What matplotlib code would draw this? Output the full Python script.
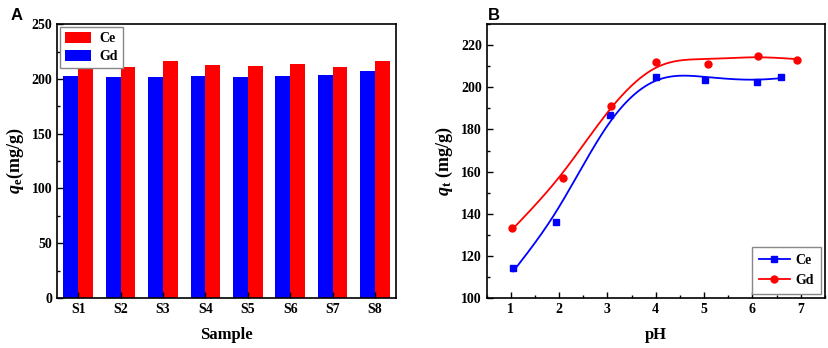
import numpy as np
import matplotlib
matplotlib.use('Agg')
import matplotlib.pyplot as plt
from matplotlib.ticker import MultipleLocator

# panel A data
samples = ['S1', 'S2', 'S3', 'S4', 'S5', 'S6', 'S7', 'S8']
gd_qe = [202.4, 201.5, 201.5, 202.3, 202.0, 202.2, 204.0, 207.0]
ce_qe = [213.4, 211.0, 215.9, 212.8, 211.9, 214.0, 210.7, 215.9]

# panel B data
ce_ph = [1.05, 1.93, 3.06, 4.0, 5.01, 6.10, 6.59]
ce_qt = [114.1, 136.3, 186.8, 204.8, 203.5, 202.5, 205.1]
gd_ph = [1.03, 2.08, 3.07, 4.01, 5.08, 6.12, 6.92]
gd_qt = [133.3, 157.0, 191.0, 212.1, 211.1, 215.1, 213.0]

plt.rcParams['font.family'] = 'Liberation Serif'
plt.rcParams['font.weight'] = 'bold'
plt.rcParams['mathtext.fontset'] = 'custom'
plt.rcParams['mathtext.rm'] = 'Liberation Serif:bold'
plt.rcParams['mathtext.it'] = 'Liberation Serif:italic:bold'
plt.rcParams['mathtext.bf'] = 'Liberation Serif:bold'


def smooth_fit(px, py, lam=0.08, m=300):
    # penalized (smoothing-spline like) fit of the points on a fine grid
    px = np.asarray(px, float)
    py = np.asarray(py, float)
    xs = np.linspace(px.min(), px.max(), m)
    h = xs[1] - xs[0]
    B = np.zeros((len(px), m))
    for i, xv in enumerate(px):
        j = min(int((xv - xs[0]) / h), m - 2)
        t = (xv - xs[j]) / h
        B[i, j] = 1 - t
        B[i, j + 1] = t
    D = np.diff(np.eye(m), 2, axis=0) / h**2
    A = B.T @ B + lam * h * D.T @ D
    f = np.linalg.solve(A, B.T @ py)
    return xs, f


fig = plt.figure(figsize=(8.29, 3.48), dpi=100)
ax1 = fig.add_axes([0.0688, 0.1437, 0.409, 0.787])
ax2 = fig.add_axes([0.587, 0.1437, 0.408, 0.787])


def style(ax):
    for s in ax.spines.values():
        s.set_linewidth(1.2)
    ax.tick_params(which='both', direction='in', labelsize=10, width=1)
    ax.tick_params(which='major', length=4)
    ax.tick_params(which='minor', length=2)
    for lab in ax.get_xticklabels() + ax.get_yticklabels():
        lab.set_fontweight('bold')


# A
x = np.arange(len(samples))
w = 0.35
ax1.bar(x - w/2, gd_qe, w, color='#0000ff', label='Gd')
ax1.bar(x + w/2, ce_qe, w, color='#ff0000', label='Ce')
ax1.set_xlim(-0.5, 7.5)
ax1.set_ylim(0, 250)
ax1.set_xticks(x)
ax1.set_xticklabels(samples)
ax1.yaxis.set_major_locator(MultipleLocator(50))
ax1.yaxis.set_minor_locator(MultipleLocator(25))
ax1.tick_params(axis='x', which='both', length=0)
style(ax1)
ax1.set_xlabel('Sample', fontsize=12, fontweight='bold', labelpad=8)
ax1.set_ylabel(r'$q_{\rm e}$(mg/g)', fontsize=13, fontweight='bold', labelpad=4)
h, l = ax1.get_legend_handles_labels()
leg = ax1.legend(h[::-1], l[::-1], loc='upper left', fontsize=10, handlelength=1.9,
                 handleheight=0.85, borderaxespad=0.2, fancybox=False,
                 edgecolor='#888888', framealpha=1, borderpad=0.35, labelspacing=0.35,
                 handletextpad=0.6)
leg.get_frame().set_linewidth(1)
fig.text(0.013, 0.955, 'A', fontsize=12, fontweight='bold', family='Liberation Sans',
         va='center')

# B - smooth fitted curves from the data points
for px, py, c, m, lab in [(ce_ph, ce_qt, '#0000ff', 's', 'Ce'),
                          (gd_ph, gd_qt, '#ff0000', 'o', 'Gd')]:
    xs, ys = smooth_fit(px, py)
    ax2.plot(xs, ys, color=c, lw=1.3)
    ax2.plot(px, py, m, color=c, ms=5)
    ax2.plot([], [], color=c, marker=m, ms=5, lw=1.3, label=lab)
ax2.set_xlim(0.5, 7.5)
ax2.set_ylim(100, 230)
ax2.xaxis.set_major_locator(MultipleLocator(1))
ax2.xaxis.set_minor_locator(MultipleLocator(0.5))
ax2.yaxis.set_major_locator(MultipleLocator(20))
ax2.yaxis.set_minor_locator(MultipleLocator(10))
style(ax2)
ax2.set_xlabel('pH', fontsize=12, fontweight='bold', labelpad=8)
ax2.set_ylabel(r'$q_{\rm t}$ (mg/g)', fontsize=13, fontweight='bold', labelpad=4)
leg2 = ax2.legend(loc='lower right', fontsize=10, handlelength=2.2, fancybox=False,
                  edgecolor='#888888', framealpha=1, borderaxespad=0.3,
                  borderpad=0.5, labelspacing=0.5, handletextpad=0.4)
leg2.get_frame().set_linewidth(1)
fig.text(0.588, 0.955, 'B', fontsize=12, fontweight='bold', family='Liberation Sans',
         va='center')

fig.savefig('out.png', dpi=100)
